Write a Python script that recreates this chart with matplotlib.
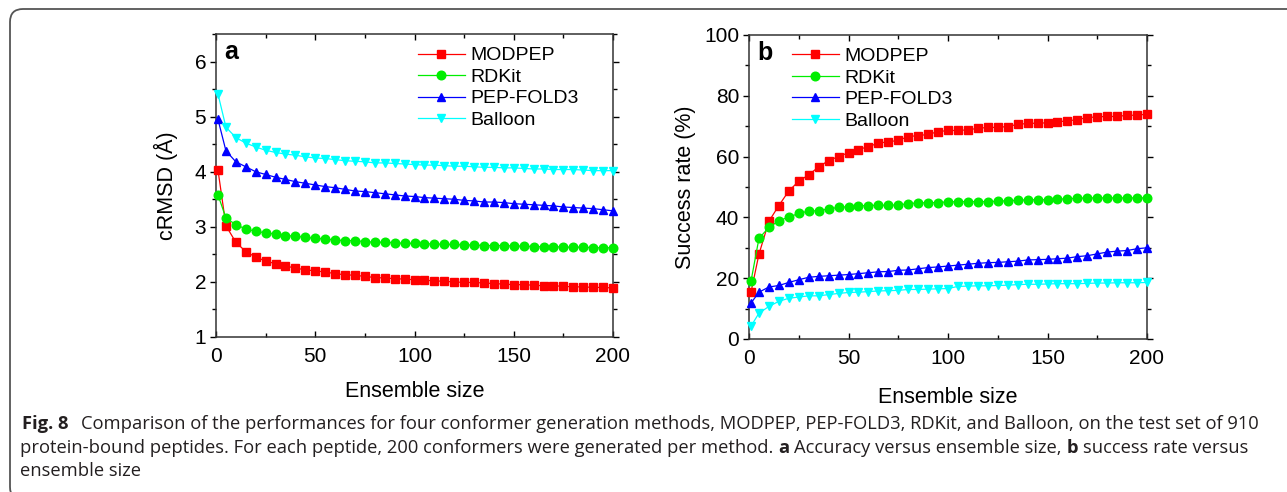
import numpy as np
import matplotlib
matplotlib.use('Agg')
import matplotlib.pyplot as plt
from matplotlib.patches import FancyBboxPatch
from matplotlib.ticker import MultipleLocator

# Ensemble sizes
ens = [1] + list(range(5, 201, 5))

# (a) cRMSD (Å) versus ensemble size
rmsd_modpep = [4.03, 3.02, 2.72, 2.55, 2.45, 2.38, 2.33, 2.29, 2.25, 2.22, 2.20,
               2.18, 2.15, 2.13, 2.12, 2.10, 2.08, 2.07, 2.06, 2.05, 2.04,
               2.03, 2.02, 2.01, 2.00, 1.99, 1.99, 1.98, 1.97, 1.96, 1.95,
               1.95, 1.94, 1.93, 1.93, 1.92, 1.91, 1.91, 1.90, 1.90, 1.89]
rmsd_rdkit = [3.58, 3.16, 3.04, 2.96, 2.92, 2.89, 2.87, 2.84, 2.83, 2.81, 2.79,
              2.78, 2.76, 2.75, 2.75, 2.73, 2.72, 2.72, 2.71, 2.70, 2.70,
              2.69, 2.69, 2.68, 2.68, 2.67, 2.67, 2.66, 2.66, 2.66, 2.65,
              2.65, 2.64, 2.64, 2.64, 2.63, 2.63, 2.63, 2.62, 2.62, 2.62]
rmsd_pepfold = [4.95, 4.38, 4.18, 4.09, 4.00, 3.95, 3.90, 3.86, 3.82, 3.79, 3.76,
                3.73, 3.71, 3.68, 3.65, 3.64, 3.62, 3.60, 3.58, 3.56, 3.55,
                3.53, 3.52, 3.51, 3.50, 3.48, 3.47, 3.45, 3.45, 3.44, 3.42,
                3.41, 3.40, 3.39, 3.38, 3.36, 3.35, 3.34, 3.33, 3.31, 3.29]
rmsd_balloon = [5.41, 4.81, 4.62, 4.52, 4.45, 4.39, 4.35, 4.32, 4.30, 4.27, 4.25,
                4.24, 4.22, 4.20, 4.19, 4.18, 4.16, 4.16, 4.15, 4.14, 4.13,
                4.12, 4.12, 4.11, 4.10, 4.10, 4.09, 4.08, 4.08, 4.07, 4.07,
                4.06, 4.05, 4.05, 4.04, 4.04, 4.04, 4.03, 4.02, 4.02, 4.02]

# (b) success rate (%) versus ensemble size
succ_modpep = [15.4, 27.9, 38.7, 43.9, 48.7, 51.9, 54.0, 56.6, 58.7, 60.0, 61.3,
               62.3, 63.3, 64.4, 64.9, 65.3, 66.6, 66.9, 67.3, 68.2, 68.6,
               68.6, 68.8, 69.3, 69.6, 69.6, 69.9, 70.6, 70.9, 71.0, 71.1,
               71.5, 71.7, 72.2, 72.8, 73.1, 73.2, 73.2, 73.6, 73.6, 74.0]
succ_rdkit = [19.0, 33.1, 36.7, 38.9, 40.1, 41.3, 42.1, 42.2, 42.8, 43.3, 43.5,
              43.8, 43.9, 44.0, 44.0, 44.1, 44.5, 44.8, 44.8, 44.9, 45.1,
              45.2, 45.2, 45.2, 45.2, 45.3, 45.5, 45.6, 45.8, 45.8, 45.8,
              46.0, 46.1, 46.3, 46.4, 46.4, 46.4, 46.4, 46.4, 46.4, 46.4]
succ_pepfold = [11.8, 15.4, 17.1, 17.6, 18.6, 19.5, 20.3, 20.6, 20.8, 21.0, 21.2,
                21.5, 21.8, 22.1, 22.2, 22.6, 22.7, 23.1, 23.5, 23.7, 24.0,
                24.3, 24.6, 24.9, 25.1, 25.2, 25.4, 25.6, 26.0, 26.1, 26.2,
                26.4, 26.6, 27.1, 27.4, 28.0, 28.6, 28.9, 29.1, 29.7, 30.0]
succ_balloon = [4.2, 8.5, 10.7, 12.4, 13.4, 13.8, 14.2, 14.2, 14.6, 15.0, 15.3,
                15.4, 15.6, 15.8, 15.9, 16.0, 16.3, 16.3, 16.4, 16.5, 16.6,
                17.3, 17.4, 17.5, 17.5, 17.6, 17.7, 17.9, 18.0, 18.0, 18.1,
                18.2, 18.2, 18.2, 18.3, 18.4, 18.4, 18.5, 18.5, 18.5, 18.6]

methods = ['MODPEP', 'RDKit', 'PEP-FOLD3', 'Balloon']
colors = ['#ff0000', '#00ee00', '#0000ff', '#00ffff']
markers = ['s', 'o', '^', 'v']

plt.rcParams['font.family'] = ['Liberation Sans', 'DejaVu Sans']

W, H = 1287, 492
fig = plt.figure(figsize=(W / 100, H / 100), dpi=100)

def px_axes(l, t, r, b):
    return fig.add_axes([l / W, 1 - b / H, (r - l) / W, (b - t) / H])

ax_a = px_axes(216, 34, 613, 337)
ax_b = px_axes(749, 35, 1147, 339)

panels = [
    (ax_a, [rmsd_modpep, rmsd_rdkit, rmsd_pepfold, rmsd_balloon], 'cRMSD (Å)',
     (1, 6.5), 1, 0.5, 'a', (422, 53), 14),
    (ax_b, [succ_modpep, succ_rdkit, succ_pepfold, succ_balloon], 'Success rate (%)',
     (0, 100), 20, 10, 'b', (796, 54), 17),
]

for ax, series, ylab, ylim, ymaj, ymin, tag, legpos, xpad in panels:
    for vals, name, c, m in zip(series, methods, colors, markers):
        ax.plot(ens, vals, color=c, marker=m, markersize=6.2, lw=0.9,
                label=name, clip_on=False, zorder=3)
    ax.set_xlim(0, 200)
    ax.set_ylim(*ylim)
    ax.xaxis.set_major_locator(MultipleLocator(50))
    ax.xaxis.set_minor_locator(MultipleLocator(25))
    ax.yaxis.set_major_locator(MultipleLocator(ymaj))
    ax.yaxis.set_minor_locator(MultipleLocator(ymin))
    ax.tick_params(axis='x', which='both', direction='in', top=True, labelsize=15, pad=7)
    ax.tick_params(axis='y', which='both', direction='out', right=True, labelsize=15, pad=3)
    ax.tick_params(which='major', length=4, width=1)
    ax.tick_params(which='minor', length=3, width=1)
    for sp in ax.spines.values():
        sp.set_linewidth(1.1)
        sp.set_color('#333333')
    ax.set_xlabel('Ensemble size', fontsize=15.5, labelpad=xpad - 3)
    ax.set_ylabel(ylab, fontsize=15.5, labelpad=12 if tag == 'a' else 6)
    ax.text(0.022, 0.94, tag, transform=ax.transAxes, fontsize=18,
            fontweight='bold', va='center', ha='left')
    lx, ly = legpos
    inv = ax.transAxes.inverted()
    ax0, ay0 = inv.transform((lx, H - ly - 5))
    ax.legend(loc='upper left', bbox_to_anchor=(ax0 - 0.02, ay0 + 0.05),
              frameon=False, fontsize=14, handlelength=2.4, handletextpad=0.3,
              labelspacing=0.2, borderaxespad=0, borderpad=0.2)

# rounded frame
frame = FancyBboxPatch((10, -8), 1400, H - 9 + 8,
                       boxstyle='round,pad=0,rounding_size=13',
                       transform=None, fill=False, edgecolor='#555555',
                       linewidth=1.3, zorder=0)
fig.patches.append(frame)

# caption
cap_font = ['Open Sans', 'DejaVu Sans']
cap_size = 13.2
renderer = fig.canvas.get_renderer()

def measure(s, bold=False):
    t = fig.text(0, 0, s, fontsize=cap_size, family=cap_font,
                 fontweight='bold' if bold else 'normal')
    w = t.get_window_extent(renderer).width
    t.remove()
    return w

space_w = measure('x x') - measure('xx')

caption_lines = [
    [('Fig. 8', True), ('\u2009', False),
     ('Comparison of the performances for four conformer generation methods, MODPEP, PEP-FOLD3, RDKit, and Balloon, on the test set of 910', False)],
    [('protein-bound peptides. For each peptide, 200 conformers were generated per method.', False),
     ('a', True), ('Accuracy versus ensemble size,', False), ('b', True),
     ('success rate versus', False)],
    [('ensemble size', False)],
]
line_x0 = [22, 20, 20]
line_y = [424, 448, 471]

for parts, x0, y in zip(caption_lines, line_x0, line_y):
    x = x0
    for s, bold in parts:
        t = fig.text(x / W, 1 - y / H, s, fontsize=cap_size, family=cap_font,
                     fontweight='bold' if bold else 'normal', va='center',
                     ha='left', color='#231f20')
        x += t.get_window_extent(renderer).width + space_w

fig.savefig('out.png', dpi=100)
